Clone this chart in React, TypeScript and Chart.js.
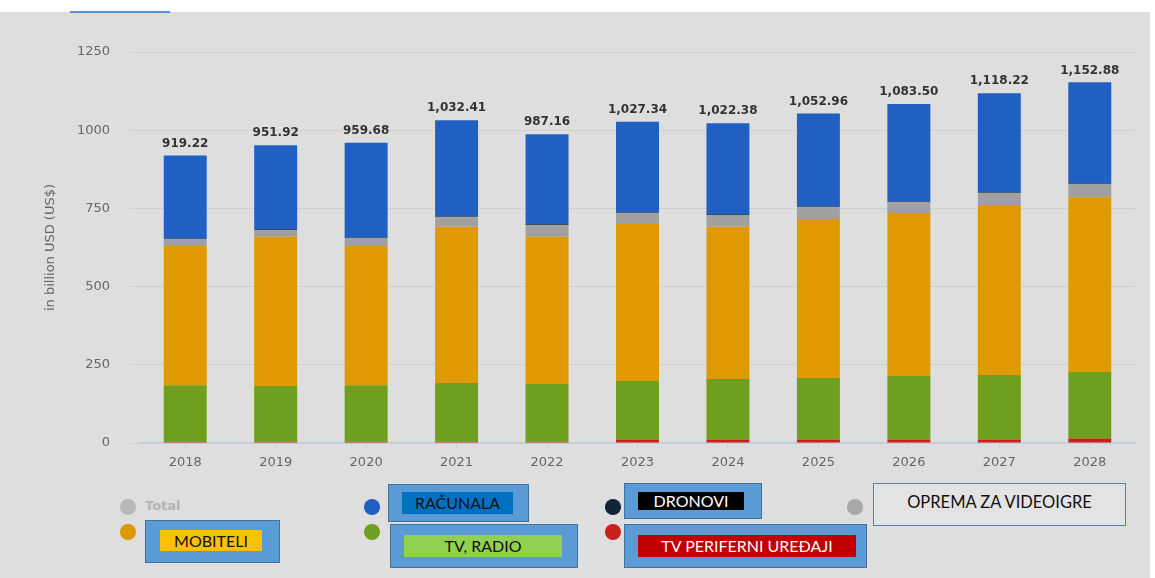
import React, { useEffect, useRef } from "react";
import { Chart, registerables } from "chart.js";

Chart.register(...registerables);

const years = ["2018", "2019", "2020", "2021", "2022", "2023", "2024", "2025", "2026", "2027", "2028"];
const totals = [919.22, 951.92, 959.68, 1032.41, 987.16, 1027.34, 1022.38, 1052.96, 1083.5, 1118.22, 1152.88];
const tvPeripherals = [4, 4, 4, 4, 4, 10, 10, 10, 10, 10, 14];
const tvRadio = [181, 178, 181, 188, 185, 188, 195, 198, 204, 207, 213];
const mobiles = [445, 477, 445, 499, 470, 502, 486, 508, 521, 544, 559];
const gaming = [22, 22, 25, 31, 38, 35, 38, 38, 35, 38, 42];
const drones = [2, 2, 2, 2, 2, 2, 2, 2, 2, 2, 2];
const computers = [265, 269, 303, 308, 288, 290, 291, 297, 312, 317, 323];
const yTicks = [0, 250, 500, 750, 1000, 1250];

const FONT = "'DejaVu Sans', sans-serif";
const LEGEND_FONT = "Lato, 'Open Sans', sans-serif";

const totalsPlugin = {
  id: "totalsLabels",
  afterDatasetsDraw(chart: any) {
    const ctx = chart.ctx;
    const last = chart.getDatasetMeta(chart.data.datasets.length - 1);
    ctx.save();
    ctx.font = `bold 12px ${FONT}`;
    ctx.fillStyle = "#333333";
    ctx.textAlign = "center";
    ctx.textBaseline = "bottom";
    last.data.forEach((bar: any, i: number) => {
      const yTop = chart.scales.y.getPixelForValue(totals[i]);
      const txt = totals[i].toLocaleString("en-US", { minimumFractionDigits: 2, maximumFractionDigits: 2 });
      ctx.fillText(txt, bar.x, yTop - 6);
    });
    ctx.restore();
  },
};

function Dot({ x, y, color }: { x: number; y: number; color: string }) {
  return (
    <div
      style={{
        position: "absolute",
        left: x - 8,
        top: y - 8,
        width: 16,
        height: 16,
        borderRadius: 8,
        background: color,
      }}
    />
  );
}

function Box({
  x, y, w, h, ix, iy, iw, ih, inner, text, textColor, bg, border,
}: any) {
  return (
    <div
      style={{
        position: "absolute",
        left: x,
        top: y,
        width: w,
        height: h,
        boxSizing: "border-box",
        background: bg,
        border: `1.5px solid ${border}`,
      }}
    >
      {inner ? (
        <div
          style={{
            position: "absolute",
            left: ix,
            top: iy,
            width: iw,
            height: ih,
            background: inner,
            color: textColor,
            fontFamily: LEGEND_FONT,
            fontSize: 16,
            lineHeight: `${ih}px`,
            textAlign: "center",
            whiteSpace: "nowrap",
          }}
        >
          {text}
        </div>
      ) : (
        <div
          style={{
            position: "absolute",
            left: 0,
            top: 0,
            width: "100%",
            height: "100%",
            color: textColor,
            fontFamily: LEGEND_FONT,
            fontSize: 16.5,
            lineHeight: `${h - 6}px`,
            textAlign: "center",
            whiteSpace: "nowrap",
          }}
        >
          {text}
        </div>
      )}
    </div>
  );
}

export default function App() {
  const ref = useRef<HTMLCanvasElement>(null);

  useEffect(() => {
    if (!ref.current) return;
    const chart = new Chart(ref.current, {
      type: "bar",
      data: {
        labels: years,
        datasets: [
          { label: "TV periferni uređaji", data: tvPeripherals, backgroundColor: "#c8201a" },
          { label: "TV, radio", data: tvRadio, backgroundColor: "#6f9f1e" },
          { label: "Mobiteli", data: mobiles, backgroundColor: "#e09a00" },
          { label: "Oprema za videoigre", data: gaming, backgroundColor: "#a0a0a0" },
          { label: "Dronovi", data: drones, backgroundColor: "#13233a" },
          { label: "Računala", data: computers, backgroundColor: "#2060c2" },
        ],
      },
      options: {
        responsive: false,
        animation: false,
        layout: { padding: { left: 38, right: 20, top: 40, bottom: 5 } },
        plugins: { legend: { display: false }, tooltip: { enabled: false } },
        datasets: { bar: { categoryPercentage: 0.5, barPercentage: 0.95 } },
        scales: {
          x: {
            stacked: true,
            grid: { display: true, offset: false, drawOnChartArea: false, drawTicks: true, tickLength: 6, color: "#c3ccda" },
            border: { display: true, color: "#c3ccda", width: 2 },
            ticks: { font: { family: FONT, size: 13 }, color: "#666666", padding: 6 },
            afterFit: (s: any) => { s.height = 30; },
          },
          y: {
            stacked: true,
            min: 0,
            max: 1250,
            afterBuildTicks: (s: any) => { s.ticks = yTicks.map((v) => ({ value: v })); },
            grid: { color: "#cfcfcf", tickLength: 10 },
            border: { display: false },
            ticks: {
              font: { family: FONT, size: 13 },
              color: "#666666",
              padding: 20,
              callback: (v: any) => String(v),
            },
            title: {
              display: true,
              text: "in billion USD (US$)",
              font: { family: FONT, size: 13 },
              color: "#666666",
              padding: { top: 5, bottom: 0 },
            },
            afterFit: (s: any) => { s.width = 102; },
          },
        },
      },
      plugins: [totalsPlugin],
    });
    return () => chart.destroy();
  }, []);

  return (
    <div style={{ position: "fixed", left: 0, top: 0, width: 1155, height: 578, background: "#ffffff", overflow: "hidden" }}>
      <div style={{ position: "absolute", left: 0, top: 12, width: 1150, height: 566, background: "#dedede" }} />
      <div style={{ position: "absolute", left: 70, top: 11, width: 100, height: 2, background: "#5b8fd8" }} />
      <canvas ref={ref} width={1155} height={466} style={{ position: "absolute", left: 0, top: 12 }} />

      <Dot x={128} y={507} color="#b8b8b8" />
      <div style={{ position: "absolute", left: 145, top: 498, fontFamily: FONT, fontWeight: "bold", fontSize: 13, color: "#b3b3b3" }}>Total</div>
      <Dot x={128} y={532} color="#e09a00" />
      <Box x={145} y={520} w={135} h={43} ix={14} iy={9} iw={102} ih={21} inner="#ffc000" text="MOBITELI" textColor="#111" bg="#5b9bd5" border="#41719c" />

      <Dot x={372} y={507} color="#2060c2" />
      <Box x={388} y={484} w={141} h={38} ix={13} iy={7} iw={111} ih={22} inner="#0070c0" text="RAČUNALA" textColor="#111" bg="#5b9bd5" border="#41719c" />
      <Dot x={372} y={532} color="#6f9f1e" />
      <Box x={390} y={524} w={188} h={44} ix={13} iy={10} iw={158} ih={22} inner="#92d050" text="TV, RADIO" textColor="#111" bg="#5b9bd5" border="#41719c" />

      <Dot x={613} y={507} color="#13233a" />
      <Box x={624} y={483} w={138} h={36} ix={13} iy={8} iw={106} ih={18} inner="#000000" text="DRONOVI" textColor="#ffffff" bg="#5b9bd5" border="#41719c" />
      <Dot x={613} y={532} color="#c8201a" />
      <Box x={624} y={524} w={243} h={44} ix={13} iy={10} iw={218} ih={22} inner="#c00000" text="TV PERIFERNI UREĐAJI" textColor="#ffffff" bg="#5b9bd5" border="#41719c" />

      <Dot x={855} y={507} color="#a8a8a8" />
      <Box x={873} y={483} w={253} h={43} text="OPREMA ZA VIDEOIGRE" textColor="#111" bg="#e3e3e3" border="#5a7fa8" />
    </div>
  );
}
